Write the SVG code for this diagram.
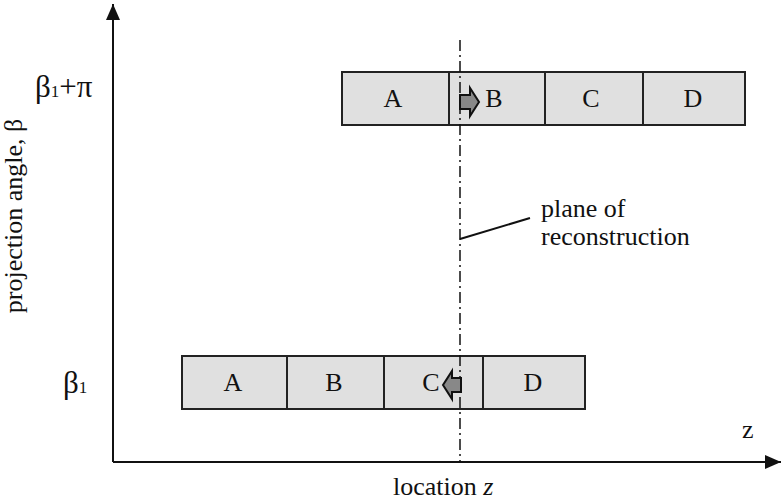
<svg xmlns="http://www.w3.org/2000/svg" width="783" height="501" viewBox="0 0 783 501">
<style>
text{font-family:"Liberation Serif","Times New Roman",serif;fill:#111;font-size:26px}
.cell{fill:#e0e0e0;stroke:#222;stroke-width:2}
.ax{stroke:#111;stroke-width:2;fill:none}
.arr{fill:#888;stroke:#111;stroke-width:2;stroke-linejoin:miter}
.c{text-anchor:middle}
.g{font-size:31px}
.s{font-size:17px}
</style>
<defs>
<marker id="ah" markerWidth="16" markerHeight="14" refX="16" refY="7" orient="auto" markerUnits="userSpaceOnUse" viewBox="0 0 16 14">
<path d="M0,0 L16,7 L0,14 z" fill="#111"/>
</marker>
</defs>
<g id="axes">
<line class="ax" x1="113" y1="462" x2="113" y2="4" marker-end="url(#ah)"/>
<line class="ax" x1="113" y1="462" x2="781" y2="462" marker-end="url(#ah)"/>
</g>
<g id="top-row">
<rect class="cell" x="342" y="72" width="107" height="53"/>
<rect class="cell" x="449" y="72" width="96" height="53"/>
<rect class="cell" x="545" y="72" width="98" height="53"/>
<rect class="cell" x="643" y="72" width="102" height="53"/>
<text class="c" x="393" y="107">A</text>
<text class="c" x="494" y="107">B</text>
<text class="c" x="591" y="107">C</text>
<text class="c" x="693" y="107">D</text>
</g>
<g id="bottom-row">
<rect class="cell" x="182" y="356" width="105" height="53"/>
<rect class="cell" x="287" y="356" width="97" height="53"/>
<rect class="cell" x="384" y="356" width="99" height="53"/>
<rect class="cell" x="483" y="356" width="102" height="53"/>
<text class="c" x="233" y="391">A</text>
<text class="c" x="334" y="391">B</text>
<text class="c" x="431" y="391">C</text>
<text class="c" x="533" y="391">D</text>
</g>
<g id="connectors">
<line x1="460" y1="40" x2="460" y2="462" stroke="#111" stroke-width="1.5" stroke-dasharray="11,4,2,4"/>
<line x1="460" y1="239" x2="530" y2="218" stroke="#111" stroke-width="2"/>
<path class="arr" d="M460,95 L470,95 L470,88 L479,102 L470,116 L470,109 L460,109 z"/>
<path class="arr" d="M461,378 L452,378 L452,371 L443,385 L452,399 L452,392 L461,392 z"/>
</g>
<g id="labels">
<text x="541" y="217">plane of</text>
<text x="541" y="245">reconstruction</text>
<text x="393" y="495">location <tspan font-style="italic">z</tspan></text>
<text x="742" y="438">z</text>
<text class="g" x="35" y="97">β<tspan class="s">1</tspan>+π</text>
<text class="g" x="63" y="393">β<tspan class="s">1</tspan></text>
<text class="c" font-size="30" transform="translate(22,216) rotate(-90)">projection angle, β</text>
</g>
</svg>
